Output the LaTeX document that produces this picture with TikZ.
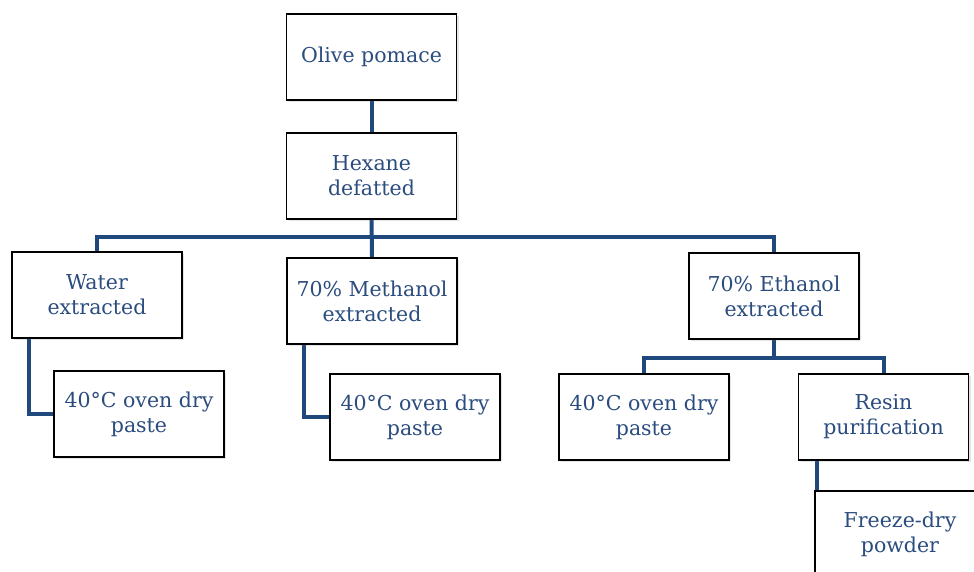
\documentclass[tikz,border=0pt]{standalone}
\usepackage{fontspec}
\setmainfont{DejaVu Serif}
\usetikzlibrary{shadows,backgrounds}
\definecolor{linecol}{HTML}{1F497D}
\definecolor{txtcol}{HTML}{2B4C7E}
\tikzset{
  box/.style={draw=black, line width=1.6pt, fill=white, minimum width=170pt, minimum height=86pt,
    inner sep=0pt, align=center, text=txtcol, font=\fontsize{20.5}{25}\selectfont,
    drop shadow={opacity=0.2, shadow xshift=2pt, shadow yshift=-2pt}},
  link/.style={draw=linecol, line width=4pt}
}
\begin{document}
\begin{tikzpicture}[x=1pt, y=-1pt]
\useasboundingbox (0,0) rectangle (974,571);
\clip (0,0) rectangle (974,571);
\coordinate (bus) at (0,237);
\coordinate (bus2) at (0,358);
\node[box] (olive) at (371.5,57) {Olive pomace};
\node[box] (hexane) at (371.5,176) {Hexane\\defatted};
\node[box] (water) at (97,295) {Water\\extracted};
\node[box] (methanol) at (372,301) {70\% Methanol\\extracted};
\node[box] (ethanol) at (774,296) {70\% Ethanol\\extracted};
\node[box] (wc) at (139,414) {40°C oven dry\\paste};
\node[box] (mc) at (415,417) {40°C oven dry\\paste};
\node[box] (ec) at (644,417) {40°C oven dry\\paste};
\node[box] (rc) at (883.5,417) {Resin\\purification};
\node[box] (fd) at (900,534) {Freeze-dry\\powder};
\begin{scope}[on background layer]
\fill[white] (0,0) rectangle (974,571);
\draw[link] (olive.south) -- (hexane.north);
\draw[link] (hexane.south) -- (methanol.north);
\draw[link] (water.north) -- (water.north |- bus) -- (ethanol.north |- bus) -- (ethanol.north);
\draw[link] ([xshift=18pt]water.south west) |- (wc.west);
\draw[link] ([xshift=18pt]methanol.south west) |- (mc.west);
\draw[link] (ethanol.south) -- (ethanol.south |- bus2);
\draw[link] (ec.north) -- (ec.north |- bus2) -- (rc.north |- bus2) -- (rc.north);
\draw[link] ([xshift=19pt]rc.south west) -- ([xshift=19pt]rc.south west |- fd.north);
\end{scope}
\end{tikzpicture}
\end{document}
